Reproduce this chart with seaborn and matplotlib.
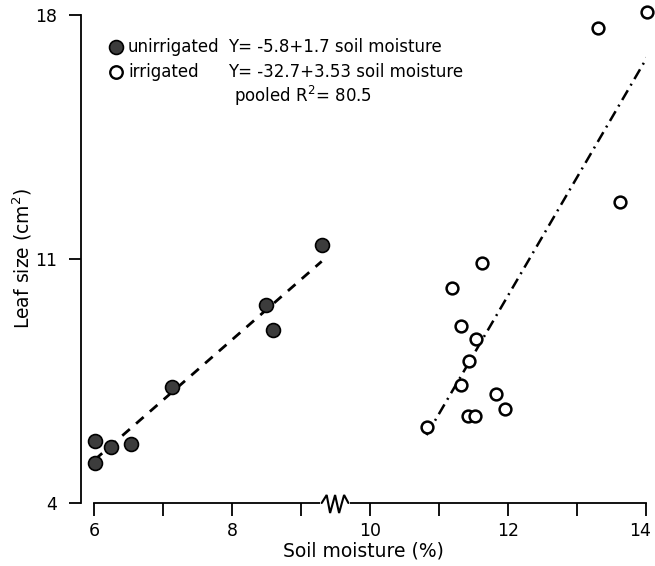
import numpy as np
import pandas as pd
import matplotlib
matplotlib.use("Agg")
import matplotlib.pyplot as plt
import matplotlib.transforms as mtransforms
import seaborn as sns

# ---- data ----
unirr_moist = [9.30, 8.49, 8.59, 7.13, 6.02, 6.25, 6.53, 6.01]
unirr_leaf = [11.41, 9.68, 8.97, 7.34, 5.78, 5.62, 5.69, 5.14]
irr_moist = [14.02, 13.31, 13.63, 11.63, 11.19, 11.32, 11.54, 11.43, 11.32,
             11.83, 11.95, 11.42, 11.52, 10.82]
irr_leaf = [18.09, 17.63, 12.63, 10.89, 10.17, 9.09, 8.70, 8.06, 7.39,
            7.14, 6.71, 6.49, 6.49, 6.19]
x_ticks = [6, 7, 8, 9, 10, 11, 12, 13, 14]
x_ticklabels = ["6", "", "8", "", "10", "", "12", "", "14"]
y_ticks = [4, 11, 18]
legend_rows = [
    ("unirrigated", "Y= -5.8+1.7 soil moisture"),
    ("irrigated", "Y= -32.7+3.53 soil moisture"),
]
pooled_text = "pooled R$^2$= 80.5"

df_u = pd.DataFrame({"moist": unirr_moist, "leaf": unirr_leaf})
df_i = pd.DataFrame({"moist": irr_moist, "leaf": irr_leaf})

sns.set_style("ticks")
plt.rcParams["font.family"] = ["DejaVu Sans"]
plt.rcParams["mathtext.fontset"] = "dejavusans"
plt.rcParams["text.color"] = "black"
plt.rcParams["axes.labelcolor"] = "black"

W, H = 655, 566
fig = plt.figure(figsize=(W / 100, H / 100), dpi=100)
ax = fig.add_axes([81 / W, 63 / H, (646 - 81) / W, (503 - 15) / H])

# regression lines
sns.regplot(data=df_u, x="moist", y="leaf", ax=ax, ci=None, scatter=False,
            truncate=True,
            line_kws=dict(color="black", lw=2.0, ls=(0, (3.6, 3.0))))
sns.regplot(data=df_i, x="moist", y="leaf", ax=ax, ci=None, scatter=False,
            truncate=True,
            line_kws=dict(color="black", lw=1.8, ls=(0, (4.5, 2.2, 0.8, 2.2))))

# points
sns.scatterplot(data=df_u, x="moist", y="leaf", ax=ax, s=100, color="#3c3c3c",
                edgecolor="black", linewidth=1.2, zorder=5, clip_on=False)
sns.scatterplot(data=df_i, x="moist", y="leaf", ax=ax, s=72, color="white",
                edgecolor="black", linewidth=1.8, zorder=5, clip_on=False)

ax.set_xlim(5.812, 14.0)
ax.set_ylim(4.0, 18.0)
for s in ["top", "right"]:
    ax.spines[s].set_visible(False)
ax.spines["left"].set_bounds(4, 18)
ax.spines["bottom"].set_bounds(6, 14)
for s in ["left", "bottom"]:
    ax.spines[s].set_linewidth(1.3)
    ax.spines[s].set_color("black")

ax.set_xticks(x_ticks)
ax.set_xticklabels(x_ticklabels)
ax.set_yticks(y_ticks)
ax.set_yticklabels([str(v) for v in y_ticks])
ax.tick_params(axis="both", direction="out", length=9, width=1.3,
               labelsize=12.5, color="black", labelcolor="black")
ax.tick_params(axis="x", pad=5)
ax.tick_params(axis="y", pad=8)

ax.set_xlabel("Soil moisture (%)", fontsize=13.5, labelpad=1, color="black")
ax.set_ylabel("Leaf size (cm$^2$)", fontsize=13.5, labelpad=1, color="black")

# nudge the last x tick label so it stays inside the figure
last = ax.get_xticklabels()[-1]
last.set_transform(last.get_transform() +
                   mtransforms.ScaledTranslation(-6 / 100, 0, fig.dpi_scale_trans))

# axis break symbol on x axis
bx0 = 9.30
ax.plot([bx0, bx0 + 26.7 / 69.0], [4.0, 4.0], color="white", lw=3,
        clip_on=False, zorder=6)
zx = np.array([0, 5, 8.4, 13.4, 17.4, 22.4, 26.7]) / 69.0 + bx0
zy = 4.0 - np.array([0, -8, 10, -8, 10, -8, 0]) / 34.79
ax.plot(zx, zy, color="black", lw=1.5, clip_on=False, zorder=7,
        solid_joinstyle="miter")

# legend / annotation block
def fx(px):
    return px / W

def fy(py):
    return 1 - py / H

fig.add_artist(plt.Line2D([fx(116)], [fy(47)], marker="o", ms=10,
                          mfc="#3c3c3c", mec="black", mew=1.2,
                          transform=fig.transFigure))
fig.add_artist(plt.Line2D([fx(116)], [fy(72)], marker="o", ms=9,
                          mfc="white", mec="black", mew=1.7,
                          transform=fig.transFigure))
for (lab, eq), yy in zip(legend_rows, [47, 72]):
    fig.text(fx(128), fy(yy), lab, fontsize=12, va="center", ha="left",
             color="black")
    fig.text(fx(228), fy(yy), eq, fontsize=12, va="center", ha="left",
             color="black")
fig.text(fx(234), fy(96), pooled_text, fontsize=12, va="center", ha="left",
         color="black")

fig.savefig("out.png", dpi=100)
